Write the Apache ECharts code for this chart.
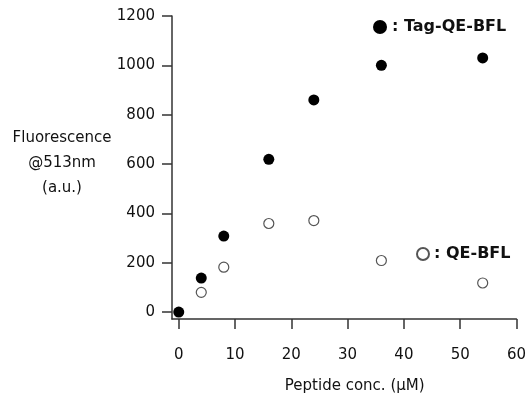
<!DOCTYPE html>
<html>
<head>
<meta charset="utf-8">
<script src="https://cdn.jsdelivr.net/npm/echarts@6/dist/echarts.min.js"></script>
<style>
  html, body { margin: 0; padding: 0; background: #fff; }
  #chart { width: 529px; height: 399px; }
</style>
</head>
<body>
<div id="chart"></div>
<script>
// peptide conc. (uM) vs fluorescence @513nm
const tagConc = [0, 4, 8, 16, 24, 36, 54]
const tagFluor = [0, 138, 308, 619, 860, 1000, 1030]
const plainConc = [4, 8, 16, 24, 36, 54]
const plainFluor = [80, 182, 359, 371, 209, 118]
const xTicks = [0, 10, 20, 30, 40, 50, 60]
const yTicks = [0, 200, 400, 600, 800, 1000, 1200]

const font = "'DejaVu Sans', sans-serif"
const axisColor = '#333'

const pairs = (xs, ys) => xs.map((x, i) => [x, ys[i]])

const chart = echarts.init(document.getElementById('chart'))

chart.setOption({
	animation: false,
	grid: {
		left: 172,
		right: 10,
		top: 16,
		bottom: 72,
	},
	xAxis: {
		type: 'value',
		min: -1.2,
		max: 60,
		name: 'Peptide conc. (μM)',
		nameLocation: 'middle',
		nameGap: 60,
		nameTextStyle: {
			fontFamily: font,
			fontSize: 15,
			color: '#111',
			padding: [0, 0, 0, 21],
		},
		splitLine: { show: false },
		axisLine: { onZero: false, lineStyle: { color: axisColor, width: 1.5 } },
		axisTick: {
			customValues: xTicks,
			length: 10,
			lineStyle: { color: axisColor, width: 1.5 },
		},
		axisLabel: {
			customValues: xTicks,
			formatter: (v) => String(v),
			margin: 29,
			fontFamily: font,
			fontSize: 15,
			color: '#111',
		},
	},
	yAxis: {
		type: 'value',
		min: -28,
		max: 1200,
		splitLine: { show: false },
		axisLine: { onZero: false, lineStyle: { color: axisColor, width: 1.5 } },
		axisTick: {
			customValues: yTicks,
			length: 10,
			lineStyle: { color: axisColor, width: 1.5 },
		},
		axisLabel: {
			customValues: yTicks,
			formatter: (v) => String(v),
			margin: 17,
			fontFamily: font,
			fontSize: 15,
			color: '#111',
		},
	},
	graphic: [
		{
			type: 'text',
			x: 62,
			y: 126,
			style: {
				text: 'Fluorescence\n@513nm\n(a.u.)',
				align: 'center',
				verticalAlign: 'top',
				lineHeight: 25,
				fontFamily: font,
				fontSize: 15,
				fill: '#111',
			},
		},
	],
	legend: [
		{
			data: ['Tag-QE-BFL'],
			left: 368,
			top: 14,
			icon: 'circle',
			itemWidth: 14,
			itemHeight: 14,
			itemGap: 0,
			formatter: ': {name}',
			textStyle: { fontFamily: font, fontSize: 16, fontWeight: 'bold', color: '#111' },
		},
		{
			data: ['QE-BFL'],
			left: 411,
			top: 241,
			icon: 'circle',
			itemWidth: 12,
			itemHeight: 12,
			itemGap: 0,
			formatter: ': {name}',
			textStyle: { fontFamily: font, fontSize: 16, fontWeight: 'bold', color: '#111' },
		},
	],
	series: [
		{
			name: 'Tag-QE-BFL',
			type: 'scatter',
			symbol: 'circle',
			symbolSize: 11,
			itemStyle: { color: '#000', opacity: 1 },
			data: pairs(tagConc, tagFluor),
		},
		{
			name: 'QE-BFL',
			type: 'scatter',
			symbol: 'circle',
			symbolSize: 10,
			itemStyle: { color: '#fff', borderColor: '#555', borderWidth: 1.2, opacity: 1 },
			data: pairs(plainConc, plainFluor),
		},
	],
})
</script>
</body>
</html>
